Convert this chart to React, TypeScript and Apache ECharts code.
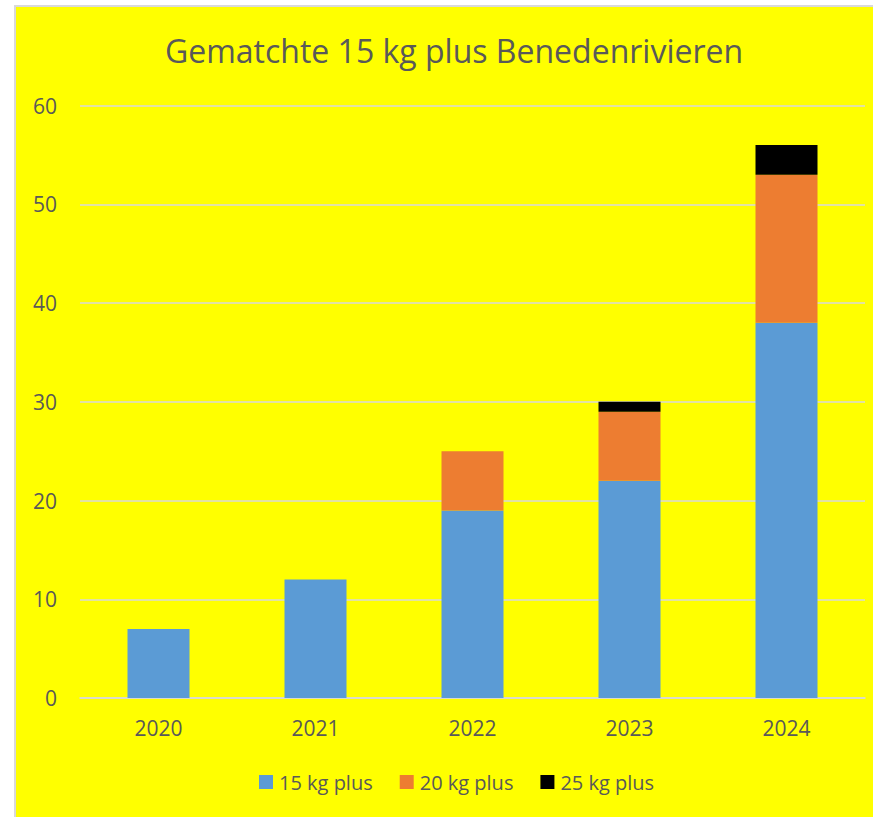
import React, { useEffect, useRef } from "react";
import * as echarts from "echarts";

const categories = ["2020", "2021", "2022", "2023", "2024"];
const plus15 = [7, 12, 19, 22, 38];
const plus20 = [0, 0, 6, 7, 15];
const plus25 = [0, 0, 0, 1, 3];
const seriesNames = ["15 kg plus", "20 kg plus", "25 kg plus"];
const yTicks = { min: 0, max: 60, interval: 10 };

const FONT = "'Open Sans', 'Noto Sans', sans-serif";
const TEXT = "#595959";

export default function App() {
  const ref = useRef<HTMLDivElement>(null);
  useEffect(() => {
    if (!ref.current) return;
    const chart = echarts.init(ref.current, null, { renderer: "svg" });
    chart.setOption({
      animation: false,
      backgroundColor: "#FFFFFF",
      textStyle: { fontFamily: FONT },
      graphic: [
        {
          type: "rect",
          z: -10,
          silent: true,
          shape: { x: 15, y: 6, width: 870, height: 820 },
          style: { fill: "#FFFF00", stroke: "#D9D9D9", lineWidth: 2 },
        },
        {
          type: "text",
          x: 454,
          y: 50,
          style: {
            text: "Gematchte 15 kg plus Benedenrivieren",
            fill: TEXT,
            font: `32px ${FONT}`,
            textAlign: "center",
            textVerticalAlign: "middle",
          },
        },
      ],
      grid: { left: 80, right: 8, top: 105.5, bottom: 119, containLabel: false },
      legend: {
        left: 259,
        top: 772,
        padding: 0,
        icon: "rect",
        itemWidth: 14,
        itemHeight: 14,
        itemGap: 27,
        textStyle: { fontSize: 20, color: TEXT, fontFamily: FONT, padding: [0, 0, 0, 1] },
        data: seriesNames,
      },
      xAxis: {
        type: "category",
        data: categories,
        axisLine: { show: true, lineStyle: { color: "#D9D9D9", width: 1.5 } },
        axisTick: { show: false },
        axisLabel: { fontSize: 21, color: TEXT, margin: 19, fontFamily: FONT },
      },
      yAxis: {
        type: "value",
        min: yTicks.min,
        max: yTicks.max,
        interval: yTicks.interval,
        axisLine: { show: false },
        axisTick: { show: false },
        axisLabel: { fontSize: 21, color: TEXT, margin: 23, fontFamily: FONT },
        splitLine: { lineStyle: { color: "#D9D9D9", width: 1.5 } },
      },
      series: [
        { name: seriesNames[0], type: "bar", stack: "t", data: plus15, barWidth: 62, itemStyle: { color: "#5B9BD5" } },
        { name: seriesNames[1], type: "bar", stack: "t", data: plus20, barWidth: 62, itemStyle: { color: "#ED7D31" } },
        { name: seriesNames[2], type: "bar", stack: "t", data: plus25, barWidth: 62, itemStyle: { color: "#000000" } },
      ],
    });
    return () => chart.dispose();
  }, []);
  return (
    <div
      ref={ref}
      style={{ position: "absolute", left: 0, top: 0, width: 873, height: 817 }}
    />
  );
}
